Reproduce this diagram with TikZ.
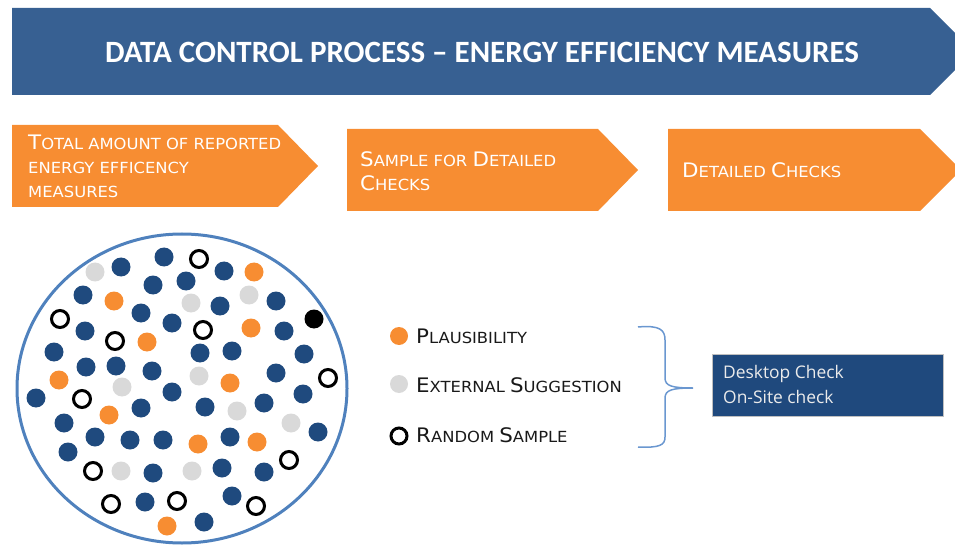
\documentclass[tikz,border=0pt]{standalone}
\usepackage{fontspec}
\setmainfont{DejaVu Sans}
\newfontfamily\titlefont{Carlito}
\newfontfamily\boxfont{Open Sans}
\newfontfamily\capsfont[FakeStretch=1.07]{DejaVu Sans}
\usetikzlibrary{positioning}

\definecolor{banner}{HTML}{376092}
\definecolor{chev}{HTML}{F78D32}
\definecolor{dotblue}{HTML}{1F4A7E}
\definecolor{dotgray}{HTML}{D9D9D9}
\definecolor{rim}{HTML}{4F81BD}
\definecolor{bracecol}{HTML}{6A97D0}
\definecolor{checkbg}{HTML}{1F497D}

% big initial of the small caps
\newcommand{\initl}[1]{{\fontsize{20}{24}\selectfont #1}}

\begin{document}
\begin{tikzpicture}[x=1pt,y=-1pt,
    chevtext/.style={text=white,font=\capsfont\fontsize{15.3}{24}\selectfont,
      align=left,inner sep=0pt,anchor=north west},
    legtext/.style={text=black!90,font=\capsfont\fontsize{15.3}{24}\selectfont,
      inner sep=0pt,anchor=base west},
    boxtext/.style={text=black!8,font=\boxfont\fontsize{17.4}{20}\selectfont,
      inner sep=0pt,anchor=base west}]
    \useasboundingbox (0,0) rectangle (955,545);
    \clip (0,0) rectangle (955,545);

    % title banner
    \fill[banner] (12,8) -- (930,8) -- (973.5,51.5) -- (930,95) -- (12,95) -- cycle;
    \node[text=white,inner sep=0pt,font=\titlefont\bfseries\fontsize{31}{31}\selectfont]
        (title) at (482,52) {DATA CONTROL PROCESS – ENERGY EFFICIENCY MEASURES};

    % the three steps
    \fill[chev] (12,125) -- (278,125) -- (318,166) -- (278,207) -- (12,207) -- cycle;
    \fill[chev] (347,129) -- (598,129) -- (638,170) -- (598,211) -- (347,211) -- cycle;
    \fill[chev] (668,129) -- (920,129) -- (961,170) -- (920,211) -- (668,211) -- cycle;
    \node[chevtext] (total) at (28,135.2)
        {\initl{T}OTAL AMOUNT OF REPORTED\\ENERGY EFFICENCY\\MEASURES};
    \node[chevtext] (sample) at (360,151.5)
        {\initl{S}AMPLE FOR \initl{D}ETAILED\\\initl{C}HECKS};
    \node[chevtext] (detail) at (682,162.5)
        {\initl{D}ETAILED \initl{C}HECKS};

    % the population
    \draw[rim, line width=3] (182,388.5) ellipse [x radius=165, y radius=154.5];
    \foreach \px/\py in {164/257,224/271,121/267,153/285,186/281,83/295,220/306,276/301,
        141/313,172/323,85/331,284/331,54/352,200/353,232/351,304/354,86/367,116/366,
        152/371,276/373,36/398,172/392,303/394,141/408,205/407,264/403,64/423,318/432,
        95/437,130/440,163/440,230/437,68/452,153/473,222/468,264/472,145/502,232/496,204/522}
        \fill[dotblue] (\px,\py) circle [radius=9.5];
    \foreach \px/\py in {254/272,114/301,251/328,147/342,230/383,59/380,109/415,198/444,
        257/442,167/526}
        \fill[chev] (\px,\py) circle [radius=9.5];
    \foreach \px/\py in {95/272,249/295,191/303,199/376,122/387,237/411,291/423,121/471,192/471}
        \fill[dotgray] (\px,\py) circle [radius=9.5];
    \foreach \px/\py in {199/259,60/319,203/330,115/341,328/378,82/399,289/460,93/471,
        111/504,177/501,256/506}
        \draw[black, line width=3] (\px,\py) circle [radius=8.5];
    \fill[black] (314,319) circle [radius=9.5];

    % legend
    \fill[chev] (399,336) circle [radius=9];
    \fill[dotgray] (399,384) circle [radius=9];
    \draw[black, line width=3] (399,436) circle [radius=8];
    \node[legtext] (plaus) at (416,343) {\initl{P}LAUSIBILITY};
    \node[legtext] (extern) at (416,392) {\initl{E}XTERNAL \initl{S}UGGESTION};
    \node[legtext] (random) at (416,442) {\initl{R}ANDOM \initl{S}AMPLE};

    % brace to the checks
    \coordinate (bracetip) at (693,388);
    \draw[bracecol, line width=1.5] (638,327) .. controls (660,325) and (665,330) .. (665,340)
        -- (665,378) .. controls (665,386) and (672,388) .. (bracetip)
        .. controls (672,388) and (665,390) .. (665,398)
        -- (665,437) .. controls (665,445) and (660,448) .. (638,447);
    \node[fill=checkbg, draw=black!25, line width=0.6, minimum width=231pt, minimum height=62pt,
        anchor=north west, inner sep=0pt] (checks) at (712,354) {};
    \node[boxtext] (desk) at (723,378) {Desktop Check};
    \node[boxtext] (site) at (723,403) {On-Site check};
\end{tikzpicture}
\end{document}
